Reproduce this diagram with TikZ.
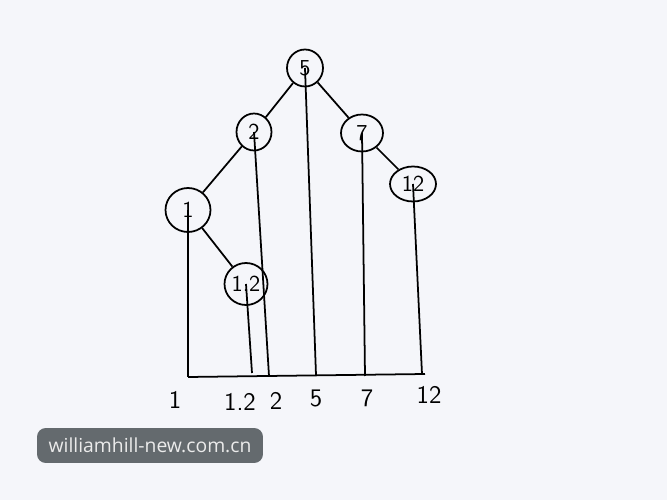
\documentclass[tikz,border=0pt]{standalone}
\usepackage{fontspec}
\newfontfamily\stampfont{Open Sans}
\usetikzlibrary{shapes.geometric}
\definecolor{paper}{HTML}{F5F6FA}
\definecolor{stampgray}{HTML}{646A6E}
\tikzset{
  key/.style={ellipse,draw,line width=1pt,inner sep=0pt,font=\sffamily\fontsize{13}{15}\selectfont},
  tick/.style={font=\sffamily\Large},
  stamp/.style={rounded corners=5pt,fill=stampgray,text=white!92!black,minimum width=4.52cm,minimum height=0.7cm,font=\stampfont\fontsize{11}{13}\selectfont}
}
\begin{document}
\begin{tikzpicture}[x=0.02cm,y=-0.02cm,line width=1pt]
\useasboundingbox[fill=paper] (0,0) rectangle (667,500);
\begin{scope}
    % tree
    \node[key,minimum width=0.72cm,minimum height=0.74cm] (E) at (305,68) {5};
    \node[key,minimum width=0.70cm,minimum height=0.74cm] (B) at (254,132) {2};
    \node[key,minimum width=0.84cm,minimum height=0.74cm] (G) at (362,133) {7};
    \node[key,minimum width=0.92cm,minimum height=0.70cm] (L) at (413,184) {12};
    \node[key,minimum width=0.90cm,minimum height=0.88cm] (A) at (188,210) {1};
    \node[key,minimum width=0.86cm,minimum height=0.84cm] (K) at (246,284) {1.2};
    \path [-] (E) edge (B);
    \path [-] (E) edge (G);
    \path [-] (B) edge (A);
    \path [-] (A) edge (K);
    \path [-] (G) edge (L);

    % projection
    \coordinate (a) at (188,377);
    \coordinate (k) at (252,373);
    \coordinate (b) at (269,376);
    \coordinate (e) at (316,375);
    \coordinate (g) at (365,376);
    \coordinate (l) at (422,374);
    \coordinate (z) at (425,374);
    \path [-] (A.center) edge (a);
    \path [-] (K.center) edge (k);
    \path [-] (B.center) edge (b);
    \path [-] (E.center) edge (e);
    \path [-] (G.center) edge (g);
    \path [-] (L.center) edge (l);
    \path [-] (a) edge (z);

    \node[tick] (ta) at (175,400) {1};
    \node[tick] (tk) at (240,402) {1.2};
    \node[tick] (tb) at (276,401) {2};
    \node[tick] (te) at (316,398) {5};
    \node[tick] (tg) at (367,398) {7};
    \node[tick] (tl) at (429,395) {12};
\end{scope}

\node[stamp] (W) at (150,445.5) {williamhill-new.com.cn};
\end{tikzpicture}
\end{document}
